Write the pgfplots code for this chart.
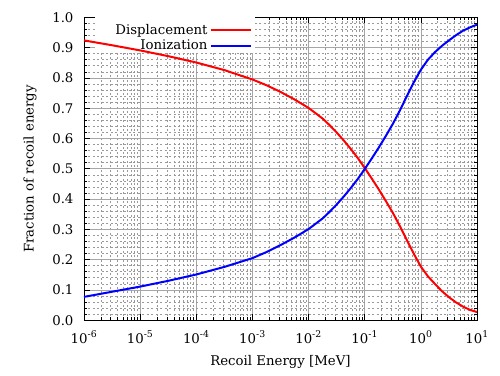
\documentclass[border=0pt]{standalone}
\usepackage{fontspec}
\setmainfont{DejaVu Serif}
\usepackage{pgfplots}
\pgfplotsset{compat=1.18}
\begin{document}
\begin{tikzpicture}
\path[use as bounding box] (0,0) rectangle (500pt,375pt);
\begin{axis}[
  at={(84pt,54.8pt)}, anchor=south west,
  scale only axis, width=393pt, height=302.8pt,
  xmode=log, xmin=1e-6, xmax=10, ymin=0, ymax=1,
  xtick={1e-6,1e-5,1e-4,1e-3,1e-2,1e-1,1,10},
  xticklabels={10\textsuperscript{-6},10\textsuperscript{-5},10\textsuperscript{-4},10\textsuperscript{-3},10\textsuperscript{-2},10\textsuperscript{-1},10\textsuperscript{0},10\textsuperscript{1}},
  ytick={0,0.1,0.2,0.3,0.4,0.5,0.6,0.7,0.8,0.9,1.0},
  yticklabels={0.0,0.1,0.2,0.3,0.4,0.5,0.6,0.7,0.8,0.9,1.0},
  minor y tick num=4,
  tick align=inside,
  major tick length=6pt, minor tick length=3pt,
  grid=both,
  major grid style={color=black!35, line width=0.7pt},
  minor grid style={color=black!40, dash pattern=on 2pt off 2.5pt, line width=0.7pt},
  axis line style={line width=0.9pt},
  tick style={black, line width=0.7pt},
  font=\fontsize{13.3}{15}\selectfont,
  xticklabel style={anchor=base, yshift=-23pt},
  yticklabel style={anchor=east, xshift=-7pt},
  xlabel={Recoil Energy [MeV]},
  ylabel={Fraction of recoil energy},
  xlabel style={at={(axis description cs:0.5,-0.149)}, anchor=base},
  ylabel style={at={(axis description cs:-0.137,0.5)}, anchor=center},
  legend style={at={(axis description cs:0.435,1)}, anchor=north east, draw=none, fill=none, inner xsep=3pt, inner ysep=5pt, row sep=0pt, font=\fontsize{13.3}{15}\selectfont,
    /tikz/every even column/.append style={column sep=7pt}},
  legend cell align=right,
  legend plot pos=right,
  legend image code/.code={\draw[#1, line width=2.2pt] (0pt,0pt) -- (40pt,0pt);},
]
\fill[white] (rel axis cs:0.028,1) rectangle (rel axis cs:0.435,0.882);
\addplot[red, line width=2pt] table {
x y
1e-6 0.924
3.162e-6 0.908
1e-5 0.891
3.162e-5 0.872
1e-4 0.851
3.162e-4 0.826
1e-3 0.795
1.778e-3 0.776
3.162e-3 0.754
5.623e-3 0.729
1e-2 0.701
1.778e-2 0.666
2.371e-2 0.644
3.162e-2 0.620
4.217e-2 0.594
5.623e-2 0.566
7.499e-2 0.536
0.1 0.503
0.1334 0.468
0.1778 0.432
0.2371 0.394
0.3162 0.355
0.4217 0.311
0.5623 0.265
0.7499 0.219
1 0.177
1.334 0.145
1.778 0.120
2.371 0.096
3.162 0.076
4.217 0.059
5.623 0.045
7.499 0.034
10 0.027
};
\addlegendentry{\hspace{8pt}Displacement}
\addplot[blue, line width=2pt] table {
x y
1e-6 0.077
3.162e-6 0.094
1e-5 0.111
3.162e-5 0.130
1e-4 0.151
3.162e-4 0.176
1e-3 0.205
1.778e-3 0.225
3.162e-3 0.248
5.623e-3 0.273
1e-2 0.301
1.778e-2 0.336
2.371e-2 0.358
3.162e-2 0.382
4.217e-2 0.408
5.623e-2 0.436
7.499e-2 0.466
0.1 0.499
0.1334 0.534
0.1778 0.570
0.2371 0.608
0.3162 0.648
0.4217 0.692
0.5623 0.740
0.7499 0.786
1 0.827
1.334 0.860
1.778 0.885
2.371 0.906
3.162 0.924
4.217 0.941
5.623 0.956
7.499 0.967
10 0.976
};
\addlegendentry{Ionization}
\end{axis}
\end{tikzpicture}
\end{document}
